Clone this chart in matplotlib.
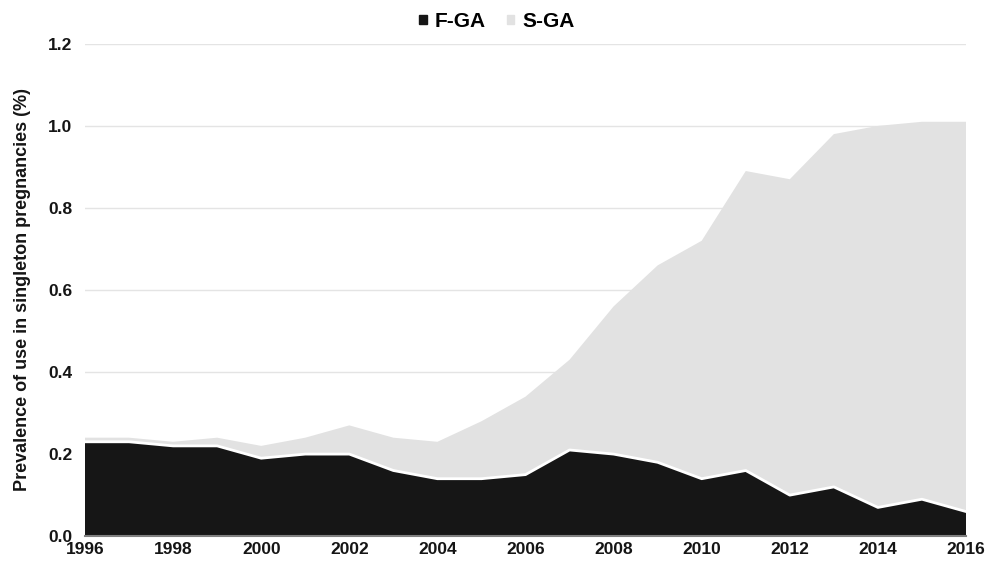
import matplotlib.pyplot as plt
from matplotlib.patches import Patch

plt.rcParams['font.family'] = ['Liberation Sans', 'DejaVu Sans']
plt.rcParams['font.weight'] = 'bold'

years = list(range(1996, 2017))
f_ga = [0.23, 0.23, 0.22, 0.22, 0.19, 0.20, 0.20, 0.16, 0.14, 0.14, 0.15,
        0.21, 0.20, 0.18, 0.14, 0.16, 0.10, 0.12, 0.07, 0.09, 0.06]
total = [0.24, 0.24, 0.23, 0.24, 0.22, 0.24, 0.27, 0.24, 0.23, 0.28, 0.34,
         0.43, 0.56, 0.66, 0.72, 0.89, 0.87, 0.98, 1.00, 1.01, 1.01]
s_ga = [round(t - f, 3) for t, f in zip(total, f_ga)]

black = '#161616'
grey = '#e2e2e2'

fig = plt.figure(figsize=(10, 5.62), dpi=100)
ax = fig.add_axes([0.085, 0.046, 0.881, 0.876])

ax.stackplot(years, f_ga, s_ga, colors=[black, grey], linewidth=0)
ax.plot(years, f_ga, color='white', linewidth=2)

ax.set_xlim(1996, 2016)
ax.set_ylim(0, 1.2)
ax.set_xticks(range(1996, 2017, 2))
ax.set_yticks([0.0, 0.2, 0.4, 0.6, 0.8, 1.0, 1.2])
ax.set_yticklabels(['0.0', '0.2', '0.4', '0.6', '0.8', '1.0', '1.2'])
ax.yaxis.grid(True, color='#e4e4e4', linewidth=1)
ax.set_axisbelow(True)
for s in ['top', 'right', 'left']:
    ax.spines[s].set_visible(False)
ax.spines['bottom'].set_color('#808080')
ax.spines['bottom'].set_linewidth(1.5)
ax.spines['bottom'].set_zorder(5)
ax.tick_params(axis='both', length=0, labelsize=12.5, colors='#151515')
ax.tick_params(axis='y', pad=9)
ax.tick_params(axis='x', pad=4)
for lab in ax.get_xticklabels() + ax.get_yticklabels():
    lab.set_fontweight('bold')

ax.set_ylabel('Prevalence of use in singleton pregnancies (%)', fontsize=13,
              fontweight='bold', color='#151515')
ax.yaxis.set_label_coords(-0.061, 0.5)

handles = [Patch(color=black, label='F-GA'), Patch(color=grey, label='S-GA')]
fig.legend(handles=handles, loc='upper center', bbox_to_anchor=(0.497, 1.012),
           ncol=2, frameon=False, handlelength=0.35,
           handleheight=0.35, handletextpad=0.4, columnspacing=1.0,
           prop={'weight': 'bold', 'size': 15})

fig.savefig('out.png', dpi=100)
